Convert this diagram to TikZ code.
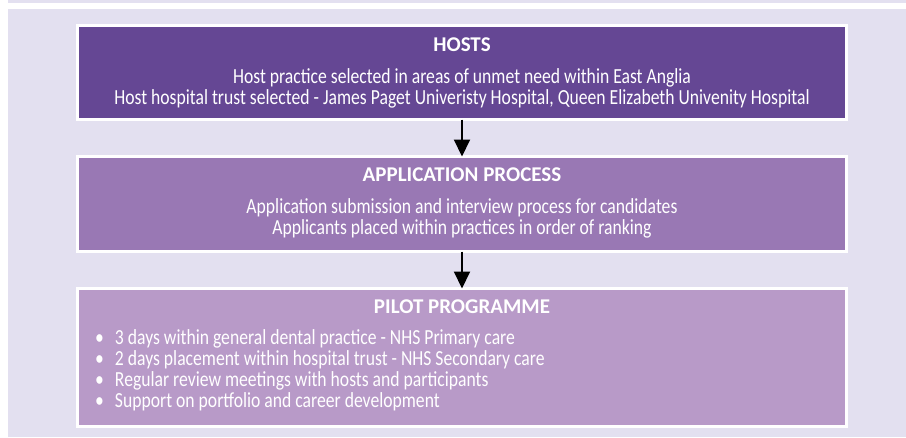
\documentclass[tikz,border=0pt]{standalone}
\usepackage{fontspec}
\setmainfont{Carlito}
\newfontfamily\narrowbody{Carlito}[FakeStretch=0.82]
\usetikzlibrary{arrows.meta}

\definecolor{bgLilac}{RGB}{227,224,240}
\definecolor{hostPurple}{RGB}{101,71,148}
\definecolor{applyPurple}{RGB}{153,120,180}
\definecolor{pilotPurple}{RGB}{184,154,200}

\tikzset{
  stagebox/.style={draw=white, line width=3pt, minimum width=769pt, inner sep=0pt, outer sep=0pt},
  boxtitle/.style={text=white, inner sep=0pt, anchor=base, font=\bfseries\fontsize{21}{24}\selectfont},
  boxline/.style={text=white, inner sep=0pt, anchor=base, font=\narrowbody\fontsize{21.5}{24}\selectfont},
  bulletline/.style={text=white, inner sep=0pt, anchor=base west, font=\narrowbody\fontsize{21.5}{24}\selectfont},
  flowarrow/.style={-{Triangle[length=17pt,width=16pt]}, line width=2pt, black}
}

\begin{document}
\begin{tikzpicture}[x=1pt,y=-1pt]
\useasboundingbox (0,0) rectangle (906,437);
\fill[bgLilac] (8,0) rectangle (906,437);
\fill[white] (8,3) rectangle (906,9);

\node[stagebox, fill=hostPurple, minimum height=94pt] (hosts) at (462,72.5) {};
\node[stagebox, fill=applyPurple, minimum height=95pt] (apply) at (462,204) {};
\node[stagebox, fill=pilotPurple, minimum height=138pt] (pilot) at (462,357.5) {};

\node[boxtitle] (hoststitle) at (462,51.7) {HOSTS};
\node[boxline] (hostsA) at (462,83.3) {Host practice selected in areas of unmet need within East Anglia};
\node[boxline] (hostsB) at (462,104.3) {Host hospital trust selected - James Paget Univeristy Hospital, Queen Elizabeth Univenity Hospital};

\node[boxtitle] (applytitle) at (462,181.7) {APPLICATION PROCESS};
\node[boxline] (applyA) at (462,213.3) {Application submission and interview process for candidates};
\node[boxline] (applyB) at (462,234.3) {Applicants placed within practices in order of ranking};

\node[boxtitle] (pilottitle) at (462,313.7) {PILOT PROGRAMME};
\node[bulletline] (pilotA) at (95,344) {\textbullet\hspace{11pt}3 days within general dental practice - NHS Primary care};
\node[bulletline] (pilotB) at (95,365.3) {\textbullet\hspace{11pt}2 days placement within hospital trust - NHS Secondary care};
\node[bulletline] (pilotC) at (95,386.6) {\textbullet\hspace{11pt}Regular review meetings with hosts and participants};
\node[bulletline] (pilotD) at (95,407.9) {\textbullet\hspace{11pt}Support on portfolio and career development};

\draw[flowarrow] (hosts.south) -- (apply.north);
\draw[flowarrow] (apply.south) -- (pilot.north);
\end{tikzpicture}
\end{document}
